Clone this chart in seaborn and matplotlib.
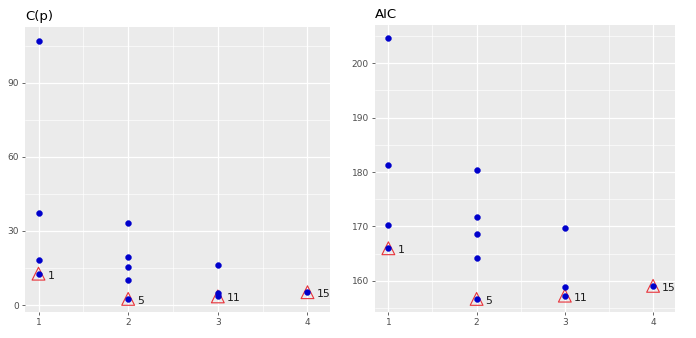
import matplotlib
matplotlib.use("Agg")
import matplotlib.pyplot as plt
import seaborn as sns
import pandas as pd
from matplotlib.ticker import MultipleLocator

# number of predictors in each candidate model
n_vars = [1, 1, 1, 1, 2, 2, 2, 2, 2, 3, 3, 3, 4]
cp_vals = [107.0, 37.2, 18.1, 12.7, 33.4, 19.5, 15.2, 10.0, 2.5, 16.3, 4.7, 3.5, 5.2]
aic_vals = [204.6, 181.2, 170.2, 166.0, 180.4, 171.8, 168.6, 164.2, 156.7, 169.8, 158.8, 157.3, 159.1]

# best model for each size and its index
best_vars = [1, 2, 3, 4]
best_cp = [12.7, 2.5, 3.5, 5.2]
best_aic = [166.0, 156.7, 157.3, 159.1]
best_ids = ["1", "5", "11", "15"]

sns.set_theme(style="darkgrid", rc={
    "axes.facecolor": "#EBEBEB",
    "grid.color": "white",
    "grid.linewidth": 1.0,
    "xtick.bottom": True,
    "ytick.left": True,
    "xtick.color": "#4D4D4D",
    "ytick.color": "#4D4D4D",
    "xtick.major.size": 2.5,
    "ytick.major.size": 2.5,
    "xtick.major.width": 0.6,
    "ytick.major.width": 0.6,
})
plt.rcParams["font.family"] = ["DejaVu Sans"]

fig = plt.figure(figsize=(6.96, 3.38), dpi=100)
ax1 = fig.add_axes([0.036, 0.077, 0.438, 0.843])
ax2 = fig.add_axes([0.539, 0.077, 0.431, 0.849])

df = pd.DataFrame({"k": n_vars, "cp": cp_vals, "aic": aic_vals})
best = pd.DataFrame({"k": best_vars, "cp": best_cp, "aic": best_aic, "id": best_ids})


def panel(ax, col, title, ymajor, ylim):
    sns.scatterplot(data=best, x="k", y=col, ax=ax, marker="^", s=85,
                    facecolor="none", edgecolor="#E8333A", linewidth=0.8, zorder=3)
    sns.scatterplot(data=df, x="k", y=col, ax=ax, color="#0000CC", s=18,
                    edgecolor="#0000CC", linewidth=0.3, zorder=4)
    for _, r in best.iterrows():
        ax.annotate(r["id"], (r["k"], r[col]), xytext=(6.5, -1.5),
                    textcoords="offset points", fontsize=7.8, color="#1A1A1A",
                    va="center", ha="left")
    ax.set_xlim(0.85, 4.25)
    ax.set_ylim(*ylim)
    ax.xaxis.set_major_locator(MultipleLocator(1))
    ax.xaxis.set_minor_locator(MultipleLocator(0.5))
    ax.yaxis.set_major_locator(MultipleLocator(ymajor))
    ax.yaxis.set_minor_locator(MultipleLocator(ymajor / 2))
    ax.grid(which="major", color="white", linewidth=0.9)
    ax.grid(which="minor", color="white", linewidth=0.45)
    ax.tick_params(axis="both", labelsize=6.5, pad=2)
    ax.tick_params(which="minor", length=0)
    ax.set_xlabel("")
    ax.set_ylabel("")
    for s in ax.spines.values():
        s.set_visible(False)
    ax.set_title(title, loc="left", fontsize=9.5, color="black", pad=5)


panel(ax1, "cp", "C(p)", 30, (-2.8, 112.5))
panel(ax2, "aic", "AIC", 10, (154.3, 207.0))

fig.savefig("out.png", dpi=100)
